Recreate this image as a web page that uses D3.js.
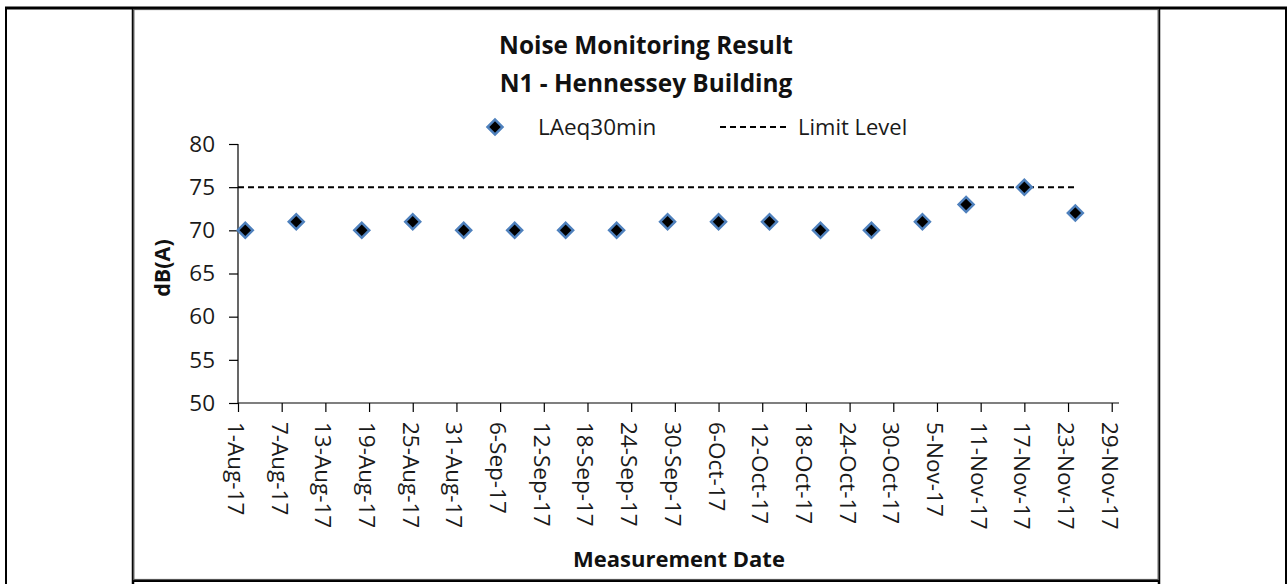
<!DOCTYPE html>
<html>
<head>
<meta charset="utf-8">
<script src="https://cdn.jsdelivr.net/npm/d3@7"></script>
<style>
  body { margin: 0; background: #fff; }
  svg { display: block; font-family: "Open Sans", Lato, sans-serif; }
</style>
</head>
<body>
<div id="chart"></div>
<script>
const sampleDates = ["2-Aug-17", "9-Aug-17", "18-Aug-17", "25-Aug-17", "1-Sep-17", "8-Sep-17",
  "15-Sep-17", "22-Sep-17", "29-Sep-17", "6-Oct-17", "13-Oct-17", "20-Oct-17", "27-Oct-17",
  "3-Nov-17", "9-Nov-17", "17-Nov-17", "24-Nov-17"];
const laeqValues = [70, 71, 70, 71, 70, 70, 70, 70, 71, 71, 71, 70, 70, 71, 73, 75, 72];
const limitLevel = 75;

const xTickLabels = ["1-Aug-17", "7-Aug-17", "13-Aug-17", "19-Aug-17", "25-Aug-17", "31-Aug-17",
  "6-Sep-17", "12-Sep-17", "18-Sep-17", "24-Sep-17", "30-Sep-17", "6-Oct-17", "12-Oct-17",
  "18-Oct-17", "24-Oct-17", "30-Oct-17", "5-Nov-17", "11-Nov-17", "17-Nov-17", "23-Nov-17", "29-Nov-17"];
const yTicks = [50, 55, 60, 65, 70, 75, 80];
const xDomain = ["1-Aug-17", "30-Nov-17"];

const parse = d3.timeParse("%d-%b-%y");
const data = sampleDates.map((d, i) => ({ date: parse(d), value: laeqValues[i] }));

const W = 1287, H = 584;
const svg = d3.select("#chart").append("svg").attr("width", W).attr("height", H);

// Table cell lines around the chart
const frame = svg.append("g").attr("stroke", "#000");
frame.append("line").attr("x1", 5).attr("x2", W).attr("y1", 8).attr("y2", 8).attr("stroke-width", 3);
frame.append("line").attr("x1", 6).attr("x2", 6).attr("y1", 7).attr("y2", H).attr("stroke-width", 2);
frame.append("line").attr("x1", 1286).attr("x2", 1286).attr("y1", 7).attr("y2", H).attr("stroke-width", 2);

// Chart area border
svg.append("rect")
  .attr("x", 133.5).attr("y", 9.5).attr("width", 1025).attr("height", 570)
  .attr("fill", "none").attr("stroke", "#555").attr("stroke-width", 1.2);
frame.append("line").attr("x1", 133).attr("x2", 133).attr("y1", 7).attr("y2", H).attr("stroke-width", 2.5);
frame.append("line").attr("x1", 1159).attr("x2", 1159).attr("y1", 7).attr("y2", H).attr("stroke-width", 2.5);
frame.append("line").attr("x1", 132).attr("x2", 1160).attr("y1", 580.5).attr("y2", 580.5).attr("stroke-width", 3);

const x = d3.scaleTime().domain(xDomain.map(parse)).range([238, 1119]);
const y = d3.scaleLinear().domain([50, 80]).range([403, 144]);

// Title
svg.append("text").attr("x", 646).attr("y", 54).attr("text-anchor", "middle")
  .attr("font-weight", "bold").attr("font-size", 24.4).attr("fill", "#111").text("Noise Monitoring Result");
svg.append("text").attr("x", 646).attr("y", 92).attr("text-anchor", "middle")
  .attr("font-weight", "bold").attr("font-size", 24.4).attr("fill", "#111").text("N1 - Hennessey Building");

// Axes
const yAxis = svg.append("g").attr("transform", "translate(238,0)")
  .call(d3.axisLeft(y).tickValues(yTicks).tickSize(9).tickPadding(14));
const xAxis = svg.append("g").attr("transform", "translate(0,403)")
  .call(d3.axisBottom(x).tickValues(xTickLabels.map(parse)).tickSize(9)
    .tickFormat((d, i) => xTickLabels[i]));

[yAxis, xAxis].forEach((a) => {
  a.select(".domain").attr("stroke", "#000").attr("stroke-width", 1.2);
  a.selectAll(".tick line").attr("stroke", "#000").attr("stroke-width", 1.2);
  a.selectAll("text").attr("fill", "#1a1a1a").attr("font-size", 22.5).attr("font-family", "'Open Sans', sans-serif");
});
yAxis.select(".domain").attr("d", "M0,144V403");
xAxis.select(".domain").attr("d", "M238,0H1119");
xAxis.selectAll(".tick text")
  .attr("text-anchor", "start")
  .attr("dy", null)
  .attr("dominant-baseline", "central")
  .attr("transform", "translate(-2,19) rotate(90)")
  .attr("y", 0).attr("x", 0);

// Axis titles
svg.append("text").attr("transform", "translate(170,268) rotate(-90)").attr("text-anchor", "middle")
  .attr("font-weight", "bold").attr("font-size", 21.5).attr("fill", "#111").text("dB(A)");
svg.append("text").attr("x", 679).attr("y", 567).attr("text-anchor", "middle")
  .attr("font-weight", "bold").attr("font-size", 22).attr("fill", "#111").text("Measurement Date");

// Limit level line
svg.append("line")
  .attr("x1", x(xDomain.map(parse)[0])).attr("x2", x(data[data.length - 1].date))
  .attr("y1", y(limitLevel)).attr("y2", y(limitLevel))
  .attr("stroke", "#000").attr("stroke-width", 2).attr("stroke-dasharray", "6,4");

// LAeq markers
const diamond = d3.symbol().type(d3.symbolSquare).size(112);
svg.append("g").selectAll("path").data(data).join("path")
  .attr("d", diamond)
  .attr("transform", (d) => `translate(${x(d.date)},${y(d.value)}) rotate(45)`)
  .attr("fill", "#000").attr("stroke", "#4f81bd").attr("stroke-width", 2.5);

// Legend
const legend = svg.append("g");
legend.append("path").attr("d", diamond)
  .attr("transform", "translate(495,127) rotate(45)")
  .attr("fill", "#000").attr("stroke", "#4f81bd").attr("stroke-width", 2.5);
legend.append("text").attr("x", 538).attr("y", 135).attr("font-size", 22.5).attr("fill", "#1a1a1a").text("LAeq30min");
legend.append("line").attr("x1", 720).attr("x2", 790).attr("y1", 127).attr("y2", 127)
  .attr("stroke", "#000").attr("stroke-width", 2).attr("stroke-dasharray", "6,4");
legend.append("text").attr("x", 798).attr("y", 135).attr("font-size", 22).attr("fill", "#1a1a1a").text("Limit Level");
</script>
</body>
</html>
